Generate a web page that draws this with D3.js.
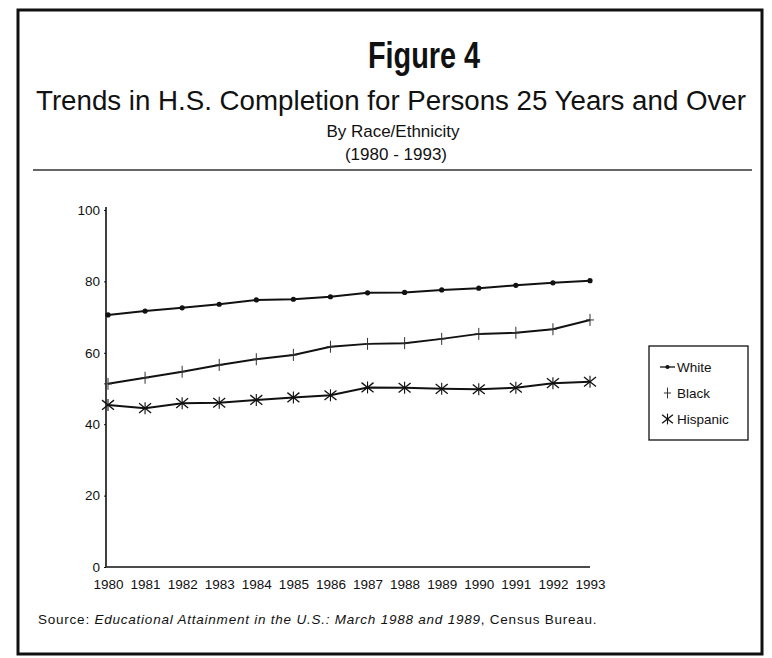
<!DOCTYPE html>
<html>
<head>
<meta charset="utf-8">
<script src="https://cdn.jsdelivr.net/npm/d3@7/dist/d3.min.js"></script>
<style>
  html, body { margin: 0; padding: 0; background: #fff; }
  svg { display: block; }
</style>
</head>
<body>
<svg id="chart" width="772" height="658"></svg>
<script>
// ---- data ----
const years = [1980, 1981, 1982, 1983, 1984, 1985, 1986, 1987, 1988, 1989, 1990, 1991, 1992, 1993];
const white    = [70.6, 71.7, 72.6, 73.6, 74.8, 75.0, 75.7, 76.8, 76.9, 77.6, 78.1, 78.9, 79.6, 80.2];
const black    = [51.3, 53.0, 54.7, 56.6, 58.2, 59.4, 61.7, 62.5, 62.7, 63.9, 65.3, 65.6, 66.6, 69.2];
const hispanic = [45.4, 44.5, 45.9, 46.0, 46.8, 47.5, 48.1, 50.3, 50.2, 49.9, 49.8, 50.2, 51.5, 51.9];
const yTicks = [0, 20, 40, 60, 80, 100];
const seriesNames = ["White", "Black", "Hispanic"];

const series = [
  { name: seriesNames[0], values: white, marker: "dot" },
  { name: seriesNames[1], values: black, marker: "plus" },
  { name: seriesNames[2], values: hispanic, marker: "star" }
];

const svg = d3.select("#chart");
const FONT = "'Liberation Sans', Arial, Helvetica, sans-serif";

function fitSpacing(sel, target) {
  const n = sel.text().length;
  const w = sel.node().getComputedTextLength();
  sel.style("letter-spacing", ((target - w) / Math.max(1, n - 1)).toFixed(2) + "px");
}

// outer frame
svg.append("rect")
  .attr("x", 18).attr("y", 10).attr("width", 744).attr("height", 644)
  .attr("fill", "none").attr("stroke", "#111").attr("stroke-width", 3);

// titles
svg.append("text")
  .attr("transform", "translate(424,68) scale(0.78,1)")
  .attr("text-anchor", "middle")
  .style("font-family", FONT)
  .style("font-weight", "bold")
  .style("font-size", "37px")
  .attr("fill", "#111")
  .text("Figure 4");

const sub = svg.append("text")
  .attr("x", 391).attr("y", 110)
  .attr("text-anchor", "middle")
  .style("font-family", FONT)
  .style("font-size", "25px")
  .attr("fill", "#111")
  .text("Trends in H.S. Completion for Persons 25 Years and Over");
(function fit(){
  const w = sub.node().getComputedTextLength();
  sub.style("font-size", (25 * 710 / w).toFixed(2) + "px");
})();

svg.append("text")
  .attr("x", 393).attr("y", 137)
  .attr("text-anchor", "middle")
  .style("font-family", FONT).style("font-size", "17px").attr("fill", "#111")
  .text("By Race/Ethnicity");

svg.append("text")
  .attr("x", 396).attr("y", 160)
  .attr("text-anchor", "middle")
  .style("font-family", FONT).style("font-size", "17px").attr("fill", "#111")
  .text("(1980 - 1993)");

svg.append("line")
  .attr("x1", 33).attr("x2", 752).attr("y1", 170).attr("y2", 170)
  .attr("stroke", "#333").attr("stroke-width", 1.5);

// scales
const x = d3.scaleLinear().domain([1980, 1993]).range([108, 590]);
const y = d3.scaleLinear().domain([0, 100]).range([567, 210]);

// axes
const yAxis = d3.axisLeft(y).tickValues(yTicks).tickSize(2).tickPadding(4).tickFormat(d3.format("d"));
const gy = svg.append("g").attr("transform", "translate(106,0)").call(yAxis);
gy.select(".domain").attr("stroke", "#111").attr("stroke-width", 1.6)
  .attr("d", `M0,${y(100) - 3}V${y(0)}`);
gy.selectAll("text").style("font-family", FONT).style("font-size", "13.5px").attr("fill", "#111");
gy.selectAll(".tick line").attr("stroke", "#111");

const xAxis = d3.axisBottom(x).tickValues(years).tickSize(0).tickPadding(12).tickFormat(d3.format("d"));
const gx = svg.append("g").attr("transform", `translate(0,${y(0)})`).call(xAxis);
gx.select(".domain").attr("stroke", "#111").attr("stroke-width", 1.6)
  .attr("d", `M106,0H590`);
gx.selectAll("text").style("font-family", FONT).style("font-size", "13.5px").attr("fill", "#111");

// lines
const line = d3.line().x((d, i) => x(years[i])).y(d => y(d));
series.forEach(s => {
  svg.append("path")
    .datum(s.values)
    .attr("d", line)
    .attr("fill", "none")
    .attr("stroke", "#111")
    .attr("stroke-width", 2);
});

function drawMarker(g, type, cx, cy, scale) {
  scale = scale || 1;
  if (type === "dot") {
    g.append("circle").attr("cx", cx).attr("cy", cy).attr("r", 2.6 * scale).attr("fill", "#111");
  } else if (type === "plus") {
    g.append("line").attr("x1", cx).attr("x2", cx).attr("y1", cy - 6 * scale).attr("y2", cy + 6 * scale)
      .attr("stroke", "#333").attr("stroke-width", 1);
    g.append("line").attr("x1", cx - 4 * scale).attr("x2", cx + 4 * scale).attr("y1", cy).attr("y2", cy)
      .attr("stroke", "#333").attr("stroke-width", 1);
  } else if (type === "star") {
    const r = 6 * scale;
    g.append("line").attr("x1", cx - r).attr("x2", cx + r).attr("y1", cy - r * 0.8).attr("y2", cy + r * 0.8)
      .attr("stroke", "#111").attr("stroke-width", 1.3);
    g.append("line").attr("x1", cx - r).attr("x2", cx + r).attr("y1", cy + r * 0.8).attr("y2", cy - r * 0.8)
      .attr("stroke", "#111").attr("stroke-width", 1.3);
    g.append("line").attr("x1", cx).attr("x2", cx).attr("y1", cy - r).attr("y2", cy + r)
      .attr("stroke", "#111").attr("stroke-width", 1.1);
  }
}

series.forEach(s => {
  const g = svg.append("g");
  s.values.forEach((v, i) => drawMarker(g, s.marker, x(years[i]), y(v)));
});

// legend
const lg = svg.append("g");
lg.append("rect").attr("x", 649).attr("y", 346).attr("width", 99).attr("height", 94)
  .attr("fill", "#fff").attr("stroke", "#111").attr("stroke-width", 1.3);
series.forEach((s, i) => {
  const ly = 369 + i * 26;
  if (s.marker === "dot") {
    lg.append("line").attr("x1", 660).attr("x2", 675).attr("y1", ly - 2).attr("y2", ly - 2)
      .attr("stroke", "#111").attr("stroke-width", 1.3);
    drawMarker(lg, "dot", 667.5, ly - 2, 0.8);
  } else {
    drawMarker(lg, s.marker, 667.5, ly - 2, 0.9);
  }
  lg.append("text").attr("x", 677).attr("y", ly + 3)
    .style("font-family", FONT).style("font-size", "13.5px").attr("fill", "#111")
    .text(s.name);
});

// source
const src = svg.append("text").attr("x", 38).attr("y", 624)
  .style("font-family", FONT).style("font-size", "13.5px").attr("fill", "#111");
src.append("tspan").text("Source:  ");
src.append("tspan").style("font-style", "italic").text("Educational Attainment in the U.S.:  March 1988 and 1989");
src.append("tspan").text(", Census Bureau.");
fitSpacing(src, 560);
</script>
</body>
</html>
